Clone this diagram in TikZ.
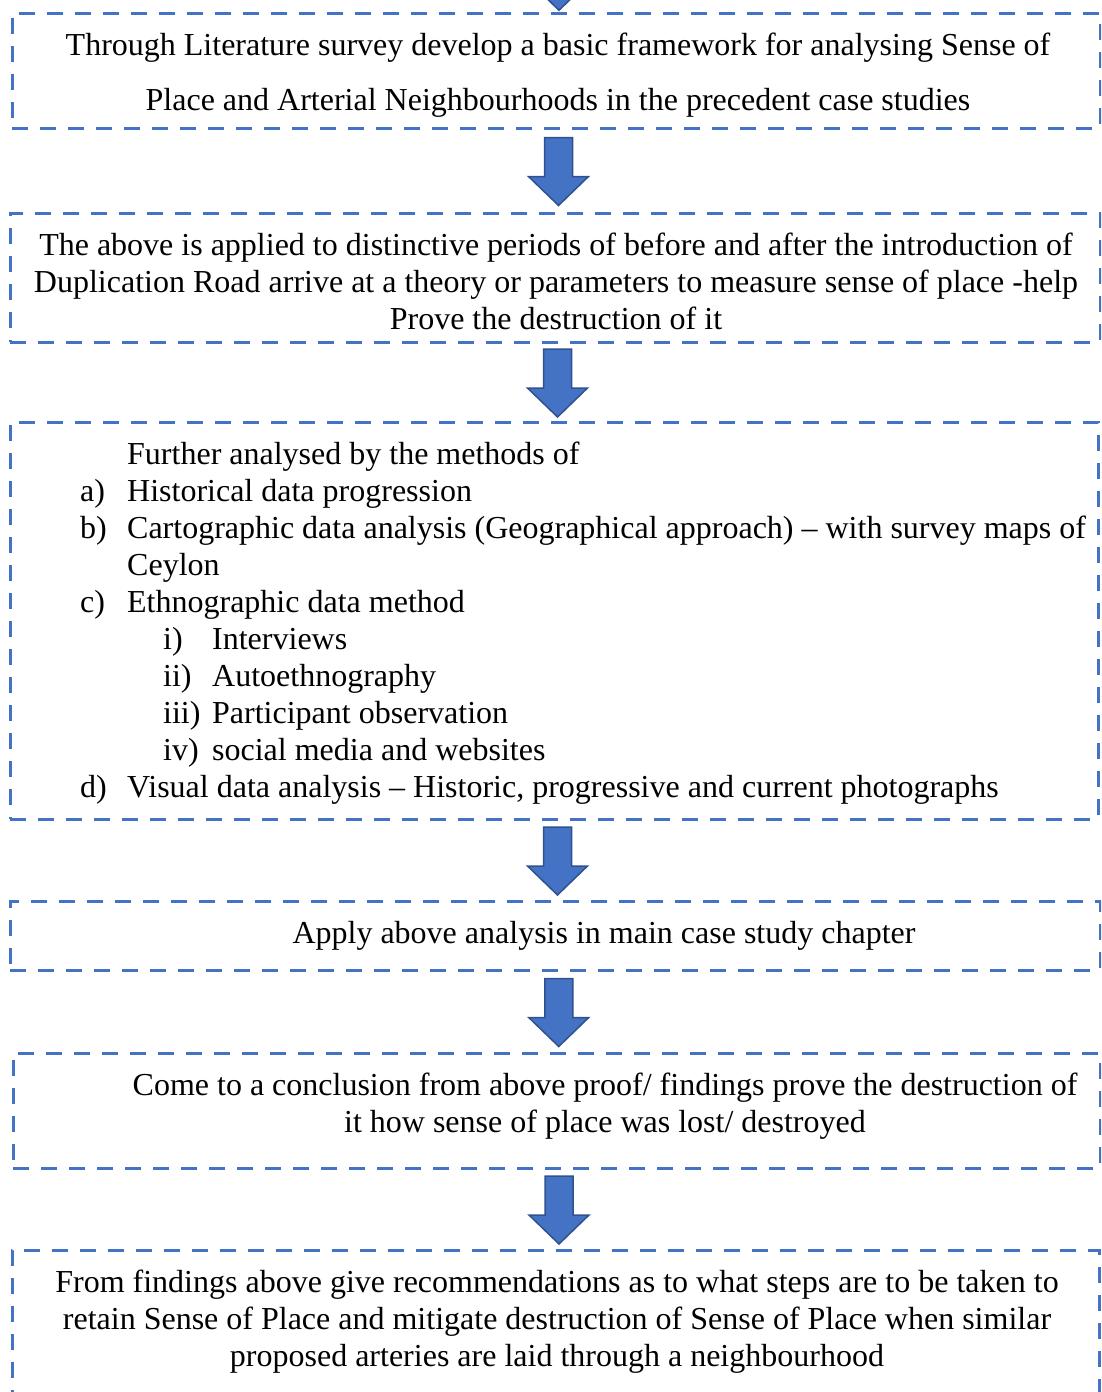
\documentclass[tikz,border=0pt]{standalone}
\usepackage{fontspec}
\setmainfont{Liberation Serif}
\usetikzlibrary{calc}
\definecolor{boxblue}{HTML}{4472C4}
\definecolor{arrowedge}{HTML}{2F528F}
\tikzset{
  stepbox/.style={draw=boxblue, line width=3pt, dash pattern=on 16pt off 12pt, inner sep=0pt},
  steptext/.style={inner sep=0pt, align=center, font=\fontsize{32}{37}\selectfont},
  flowarrow/.style={fill=boxblue, draw=arrowedge, line width=1.5pt, line join=miter}
}
% block arrow half way between two boxes
\newcommand{\flowdown}[2]{%
  \coordinate (mid-#2) at ($(#1.south)!0.5!(#2.north)$);
  \draw[flowarrow] ($(mid-#2)+(-11,-33)$) -- ($(mid-#2)+(17,-33)$) -- ($(mid-#2)+(17,6)$)
    -- ($(mid-#2)+(33,6)$) -- ($(mid-#2)+(3,35)$) -- ($(mid-#2)+(-27,6)$)
    -- ($(mid-#2)+(-11,6)$) -- cycle;
}
\begin{document}
\begin{tikzpicture}[x=1pt, y=-1pt]
  \useasboundingbox (0,0) rectangle (1101,1392);
  \clip (0,0) rectangle (1101,1392);
  % boxes
  \node[stepbox, minimum width=1088pt, minimum height=115pt] (b1) at (556,70.5) {};
  \node[stepbox, minimum width=1090pt, minimum height=129pt] (b2) at (555,277.5) {};
  \node[stepbox, minimum width=1088pt, minimum height=397pt] (b3) at (554,620.5) {};
  \node[stepbox, minimum width=1090pt, minimum height=69pt] (b4) at (555,935.5) {};
  \node[stepbox, minimum width=1087pt, minimum height=115pt] (b5) at (556.5,1110.5) {};
  \node[stepbox, minimum width=1087pt, minimum height=150pt] (b6) at (555.5,1325) {};
  % texts
  \node[steptext, font=\fontsize{32}{55}\selectfont] (t1) at (558,75.5)
    {Through Literature survey develop a basic framework for analysing Sense of\\
     Place and Arterial Neighbourhoods in the precedent case studies};
  \node[steptext] (t2) at (556,281)
    {The above is applied to distinctive periods of before and after the introduction of\\
     Duplication Road arrive at a theory or parameters to measure sense of place -help\\
     Prove the destruction of it};
  \node[steptext, align=left, anchor=west] (t3) at (80,623.5)
    {\makebox[47pt][l]{}Further analysed by the methods of\\
     \makebox[47pt][l]{a)}Historical data progression\\
     \makebox[47pt][l]{b)}Cartographic data analysis (Geographical approach) -- with survey maps of\\
     \makebox[47pt][l]{}Ceylon\\
     \makebox[47pt][l]{c)}Ethnographic data method\\
     \hspace*{83pt}\makebox[49pt][l]{i)}Interviews\\
     \hspace*{83pt}\makebox[49pt][l]{ii)}Autoethnography\\
     \hspace*{83pt}\makebox[49pt][l]{iii)}Participant observation\\
     \hspace*{83pt}\makebox[49pt][l]{iv)}social media and websites\\
     \makebox[47pt][l]{d)}Visual data analysis -- Historic, progressive and current photographs};
  \node[steptext] (t4) at (604,936) {Apply above analysis in main case study chapter};
  \node[steptext] (t5) at (605,1106.5)
    {Come to a conclusion from above proof/ findings prove the destruction of\\
     it how sense of place was lost/ destroyed};
  \node[steptext] (t6) at (557,1322)
    {From findings above give recommendations as to what steps are to be taken to\\
     retain Sense of Place and mitigate destruction of Sense of Place when similar\\
     proposed arteries are laid through a neighbourhood};
  % arrows
  \coordinate (top) at (556,-61);
  \flowdown{top}{b1}
  \flowdown{b1}{b2}
  \flowdown{b2}{b3}
  \flowdown{b3}{b4}
  \flowdown{b4}{b5}
  \flowdown{b5}{b6}
\end{tikzpicture}
\end{document}
